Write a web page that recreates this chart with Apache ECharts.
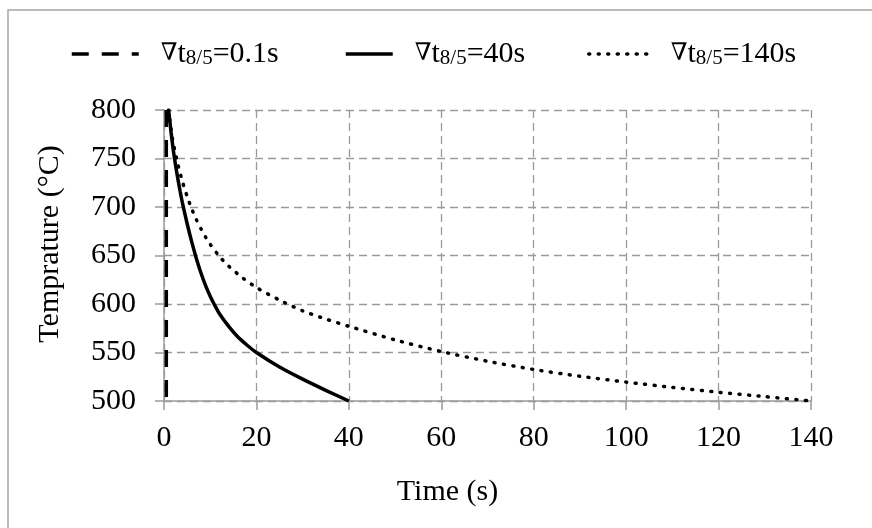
<!DOCTYPE html>
<html>
<head>
<meta charset="utf-8">
<script src="https://cdn.jsdelivr.net/npm/echarts@6/dist/echarts.min.js"></script>
<style>
  html, body { margin: 0; padding: 0; background: #fff; }
  #chart { width: 872px; height: 528px; }
</style>
</head>
<body>
<div id="chart"></div>
<script>
// cooling curves, temperature vs time
var seriesNames = ['0.1s', '40s', '140s'];

var xTicks = [0, 20, 40, 60, 80, 100, 120, 140];
var yTicks = [500, 550, 600, 650, 700, 750, 800];

// [time (s), temperature (°C)]
var fastCooling = [[0.5, 800], [0.5, 500]];

var midCooling = [
  [1, 800], [1.5, 778], [2, 759], [2.5, 743], [3, 729], [3.5, 716], [4, 704],
  [5, 683], [6, 664], [7, 647], [8, 632], [9, 619], [10, 608], [11, 598.5],
  [12, 590], [14, 577], [16, 566], [18, 557.5], [20, 550], [25, 535],
  [30, 522.5], [35, 511], [40, 500]
];

var slowCooling = [
  [1, 800], [1.5, 781], [2, 766], [3, 744], [4, 726], [5, 711], [6, 698],
  [7, 687], [8, 677.5], [9, 669], [10, 661.5], [12, 649], [14, 639],
  [17, 627], [20, 617], [25, 604], [30, 593], [35, 584.5], [40, 577],
  [50, 563], [60, 551], [70, 541], [80, 532.5], [90, 525.5], [100, 519.5],
  [110, 514], [120, 509], [130, 504.5], [140, 500]
];

var serif = '"Liberation Serif", "Times New Roman", serif';
var gridGray = '#9a9a9a';

var chart = echarts.init(document.getElementById('chart'));

function legendLabel(name) {
  return '{g|\u2207}{t|t}{s|8/5}{t|=' + name + '}';
}

var legendRich = {
  g: { fontFamily: '"Liberation Serif", "DejaVu Serif", serif', fontStyle: 'italic',
       fontSize: 24, lineHeight: 30, color: '#000', padding: [0, 0, 0, 17] },
  t: { fontFamily: serif, fontSize: 30, lineHeight: 30, color: '#000' },
  s: { fontFamily: serif, fontSize: 21, lineHeight: 18, color: '#000', verticalAlign: 'bottom' }
};

function makeLegend(name, left, width) {
  return {
    data: [name],
    left: left,
    top: 39,
    padding: 0,
    itemWidth: width,
    itemHeight: 14,
    itemStyle: { opacity: 0 },      // hide the symbol dot, keep the line
    lineStyle: { width: 3.5 },
    formatter: legendLabel,
    textStyle: { rich: legendRich }
  };
}

var option = {
  animation: false,
  backgroundColor: '#fff',
  graphic: [{
    type: 'rect',
    shape: { x: 8, y: 10, width: 1000, height: 1000 },
    style: { fill: 'none', stroke: '#a6a6a6', lineWidth: 1.5 },
    silent: true
  }],
  legend: [
    makeLegend(seriesNames[0], 70, 67),
    makeLegend(seriesNames[1], 344, 47),
    makeLegend(seriesNames[2], 587, 60)
  ],
  grid: { left: 164, right: 61, top: 110, bottom: 127, containLabel: false },
  xAxis: {
    type: 'value',
    min: xTicks[0],
    max: xTicks[xTicks.length - 1],
    interval: 20,
    name: 'Time (s)',
    nameLocation: 'middle',
    nameGap: 76,
    nameTextStyle: { fontFamily: serif, fontSize: 30, color: '#000', padding: [0, 80, 0, 0] },
    axisLine: { show: true, lineStyle: { color: gridGray, width: 1.5 } },
    axisTick: { show: true, length: 9, lineStyle: { color: gridGray, width: 1.5 } },
    axisLabel: { fontFamily: serif, fontSize: 30, color: '#000', margin: 22 },
    splitLine: { show: true, lineStyle: { color: gridGray, width: 1.3, type: [8, 5] } }
  },
  yAxis: {
    type: 'value',
    min: yTicks[0],
    max: yTicks[yTicks.length - 1],
    interval: 50,
    name: 'Temprature (\u00b0C)',
    nameLocation: 'middle',
    nameGap: 99,
    nameTextStyle: { fontFamily: serif, fontSize: 30, color: '#000', padding: [0, 0, 0, 23] },
    axisLine: { show: true, lineStyle: { color: gridGray, width: 1.5 } },
    axisTick: { show: true, length: 9, lineStyle: { color: gridGray, width: 1.5 } },
    axisLabel: { fontFamily: serif, fontSize: 30, color: '#000', margin: 28 },
    splitLine: { show: true, lineStyle: { color: gridGray, width: 1.3, type: [8, 5] } }
  },
  series: [
    {
      name: seriesNames[0],
      type: 'line',
      data: fastCooling,
      symbol: 'none',
      lineStyle: { color: '#000', width: 3.5, type: [17, 13] },
      itemStyle: { color: '#000' }
    },
    {
      name: seriesNames[1],
      type: 'line',
      data: midCooling,
      symbol: 'none',
      smooth: 0.25,
      lineStyle: { color: '#000', width: 3.5, type: 'solid' },
      itemStyle: { color: '#000' }
    },
    {
      name: seriesNames[2],
      type: 'line',
      data: slowCooling,
      symbol: 'none',
      smooth: 0.25,
      lineStyle: { color: '#000', width: 3.5, type: [1, 8.5], cap: 'round' },
      itemStyle: { color: '#000' }
    }
  ]
};

chart.setOption(option);
</script>
</body>
</html>
